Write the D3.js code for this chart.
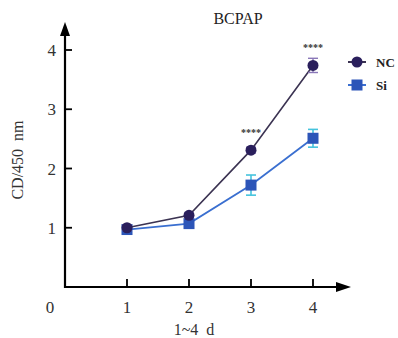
<!DOCTYPE html>
<html>
<head>
<meta charset="utf-8">
<script src="https://cdn.jsdelivr.net/npm/d3@7"></script>
<style>
  body { margin: 0; background: #fff; }
</style>
</head>
<body>
<svg id="chart" width="398" height="338" font-family="'Liberation Serif', 'Times New Roman', Times, serif"></svg>
<script>
// data
const days = [1, 2, 3, 4]
const ncMean = [1.00, 1.21, 2.31, 3.74]
const ncErr = [0.04, 0.04, 0.05, 0.12]
const siMean = [0.97, 1.07, 1.72, 2.51]
const siErr = [0.04, 0.04, 0.17, 0.15]
const yTicks = [1, 2, 3, 4]
const xTicks = [1, 2, 3, 4]
const stars = [3, 4]

const svg = d3.select("svg#chart")

const x = d3.scaleLinear().domain([0, 4]).range([65, 313])
const y = d3.scaleLinear().domain([0, 4]).range([287, 50])

// y axis
svg.append("line")
   .attr("x1", x(0)).attr("x2", x(0))
   .attr("y1", y(0) + 1).attr("y2", 34)
   .attr("stroke", "#000").attr("stroke-width", 2.2)
svg.append("path")
   .attr("d", `M${x(0) - 5},36 L${x(0)},22 L${x(0) + 5},36 Z`)
   .attr("fill", "#000")

svg.selectAll(".ytick").data(yTicks).enter().append("line")
   .attr("x1", x(0)).attr("x2", x(0) + 7)
   .attr("y1", d => y(d)).attr("y2", d => y(d))
   .attr("stroke", "#000").attr("stroke-width", 1.8)
svg.selectAll(".ylab").data(yTicks).enter().append("text")
   .attr("x", 56).attr("y", d => y(d) + 6)
   .attr("text-anchor", "end")
   .attr("font-size", 17).attr("fill", "#333")
   .text(d => d)

// x axis
svg.append("line")
   .attr("x1", x(0) - 1).attr("x2", 338)
   .attr("y1", y(0)).attr("y2", y(0))
   .attr("stroke", "#000").attr("stroke-width", 2.2)
svg.append("path")
   .attr("d", `M336,${y(0) - 5} L351,${y(0)} L336,${y(0) + 5} Z`)
   .attr("fill", "#000")

svg.selectAll(".xtick").data(xTicks).enter().append("line")
   .attr("x1", d => x(d)).attr("x2", d => x(d))
   .attr("y1", y(0)).attr("y2", y(0) - 8)
   .attr("stroke", "#000").attr("stroke-width", 1.8)
svg.selectAll(".xlab").data([0].concat(xTicks)).enter().append("text")
   .attr("x", d => d === 0 ? 50 : x(d)).attr("y", 313)
   .attr("text-anchor", "middle")
   .attr("font-size", 17).attr("fill", "#333")
   .text(d => d)

// axis titles
svg.append("text")
   .attr("transform", "translate(23,160) rotate(-90)")
   .attr("text-anchor", "middle")
   .attr("font-size", 16).attr("fill", "#333")
   .attr("xml:space", "preserve")
   .text("CD/450  nm")
svg.append("text")
   .attr("x", 194).attr("y", 335)
   .attr("text-anchor", "middle")
   .attr("font-size", 16).attr("fill", "#333")
   .attr("xml:space", "preserve")
   .text("1~4  d")

// title
svg.append("text")
   .attr("x", 238).attr("y", 24)
   .attr("text-anchor", "middle")
   .attr("font-size", 16).attr("fill", "#222")
   .text("BCPAP")

const line = d3.line().x((d, i) => x(days[i])).y(d => y(d))

// Si series
svg.append("path").datum(siMean)
   .attr("d", line).attr("fill", "none")
   .attr("stroke", "#3a6fd0").attr("stroke-width", 1.8)
days.forEach((d, i) => {
    const g = svg.append("g").attr("stroke", "#45c3dd").attr("stroke-width", 1.6)
    g.append("line").attr("x1", x(d)).attr("x2", x(d))
     .attr("y1", y(siMean[i] + siErr[i])).attr("y2", y(siMean[i] - siErr[i]))
    g.append("line").attr("x1", x(d) - 5).attr("x2", x(d) + 5)
     .attr("y1", y(siMean[i] + siErr[i])).attr("y2", y(siMean[i] + siErr[i]))
    g.append("line").attr("x1", x(d) - 5).attr("x2", x(d) + 5)
     .attr("y1", y(siMean[i] - siErr[i])).attr("y2", y(siMean[i] - siErr[i]))
})
svg.selectAll(".si").data(siMean).enter().append("rect")
   .attr("x", (d, i) => x(days[i]) - 5.5).attr("y", d => y(d) - 5.5)
   .attr("width", 11).attr("height", 11)
   .attr("fill", "#2c55b8")

// NC series
svg.append("path").datum(ncMean)
   .attr("d", line).attr("fill", "none")
   .attr("stroke", "#3b3352").attr("stroke-width", 1.6)
days.forEach((d, i) => {
    const g = svg.append("g").attr("stroke", "#8a78b8").attr("stroke-width", 1.4)
    g.append("line").attr("x1", x(d)).attr("x2", x(d))
     .attr("y1", y(ncMean[i] + ncErr[i])).attr("y2", y(ncMean[i] - ncErr[i]))
    g.append("line").attr("x1", x(d) - 5).attr("x2", x(d) + 5)
     .attr("y1", y(ncMean[i] + ncErr[i])).attr("y2", y(ncMean[i] + ncErr[i]))
    g.append("line").attr("x1", x(d) - 5).attr("x2", x(d) + 5)
     .attr("y1", y(ncMean[i] - ncErr[i])).attr("y2", y(ncMean[i] - ncErr[i]))
})
svg.selectAll(".nc").data(ncMean).enter().append("circle")
   .attr("cx", (d, i) => x(days[i])).attr("cy", d => y(d))
   .attr("r", 5.5)
   .attr("fill", "#2a1f5c")

// significance stars
svg.selectAll(".star").data(stars).enter().append("text")
   .attr("x", d => x(d)).attr("y", d => y(Math.max(ncMean[d - 1], siMean[d - 1])) - 14)
   .attr("text-anchor", "middle")
   .attr("font-size", 10).attr("font-weight", "bold").attr("fill", "#333")
   .text("****")

// legend
const legend = [{ name: "NC", color: "#2a1f5c", line: "#3b3352", shape: "circle" },
                { name: "Si", color: "#2c55b8", line: "#3a6fd0", shape: "rect" }]
legend.forEach((d, i) => {
    const ly = 62 + i * 23
    svg.append("line").attr("x1", 348).attr("x2", 366)
       .attr("y1", ly).attr("y2", ly)
       .attr("stroke", d.line).attr("stroke-width", 2)
    if (d.shape === "circle") {
        svg.append("circle").attr("cx", 357).attr("cy", ly).attr("r", 5.5).attr("fill", d.color)
    } else {
        svg.append("rect").attr("x", 351.5).attr("y", ly - 5.5)
           .attr("width", 11).attr("height", 11).attr("fill", d.color)
    }
    svg.append("text").attr("x", 376).attr("y", ly + 5)
       .attr("font-size", 13).attr("font-weight", "bold").attr("fill", "#222")
       .text(d.name)
})
</script>
</body>
</html>
